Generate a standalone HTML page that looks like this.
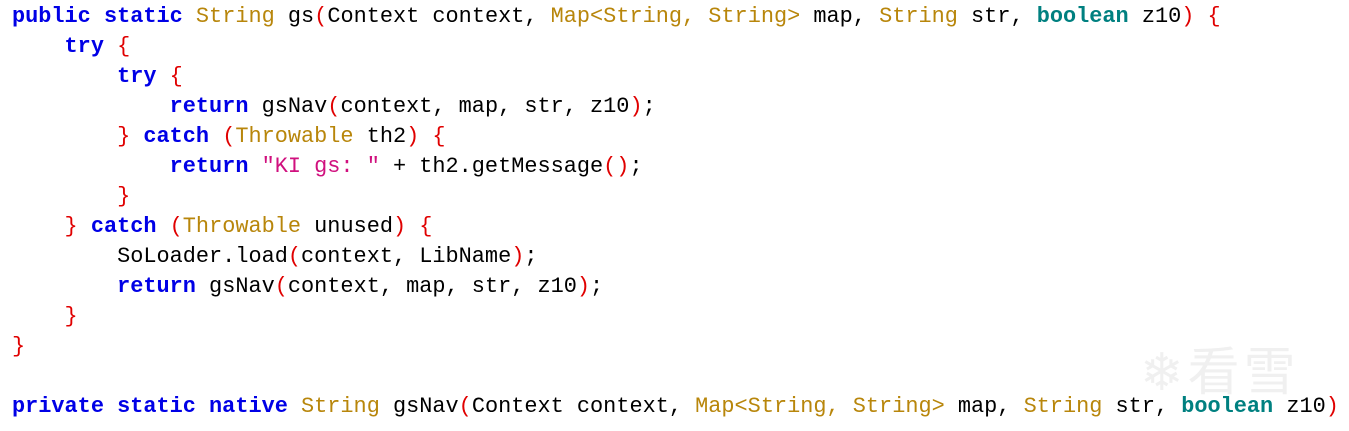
<!DOCTYPE html>
<html><head><meta charset="utf-8"><style>
body{margin:0;background:#fff;width:1349px;height:431px;overflow:hidden;position:relative}
pre{margin:0;position:absolute;left:12px;top:2px;font-family:"Liberation Mono",monospace;font-size:21.9px;line-height:30px;color:#000}
.k{color:#0000e6;font-weight:bold}
.t{color:#b8860b}
.p{color:#e00000}
.b{color:#008080;font-weight:bold}
.s{color:#d0107e}
.wm{position:absolute;left:1140px;top:330px;font-family:"Noto Sans CJK SC",sans-serif;font-size:52px;color:#f0f0f0;letter-spacing:4px}
</style></head><body>
<div class="wm">❄看雪</div>
<pre><span class="k">public static</span> <span class="t">String</span> gs<span class="p">(</span>Context context, <span class="t">Map&lt;String, String&gt;</span> map, <span class="t">String</span> str, <span class="b">boolean</span> z10<span class="p">)</span> <span class="p">{</span>
    <span class="k">try</span> <span class="p">{</span>
        <span class="k">try</span> <span class="p">{</span>
            <span class="k">return</span> gsNav<span class="p">(</span>context, map, str, z10<span class="p">)</span>;
        <span class="p">}</span> <span class="k">catch</span> <span class="p">(</span><span class="t">Throwable</span> th2<span class="p">)</span> <span class="p">{</span>
            <span class="k">return</span> <span class="s">"KI gs: "</span> + th2.getMessage<span class="p">()</span>;
        <span class="p">}</span>
    <span class="p">}</span> <span class="k">catch</span> <span class="p">(</span><span class="t">Throwable</span> unused<span class="p">)</span> <span class="p">{</span>
        SoLoader.load<span class="p">(</span>context, LibName<span class="p">)</span>;
        <span class="k">return</span> gsNav<span class="p">(</span>context, map, str, z10<span class="p">)</span>;
    <span class="p">}</span>
<span class="p">}</span>

<span class="k">private static native</span> <span class="t">String</span> gsNav<span class="p">(</span>Context context, <span class="t">Map&lt;String, String&gt;</span> map, <span class="t">String</span> str, <span class="b">boolean</span> z10<span class="p">)</span></pre>
</body></html>
